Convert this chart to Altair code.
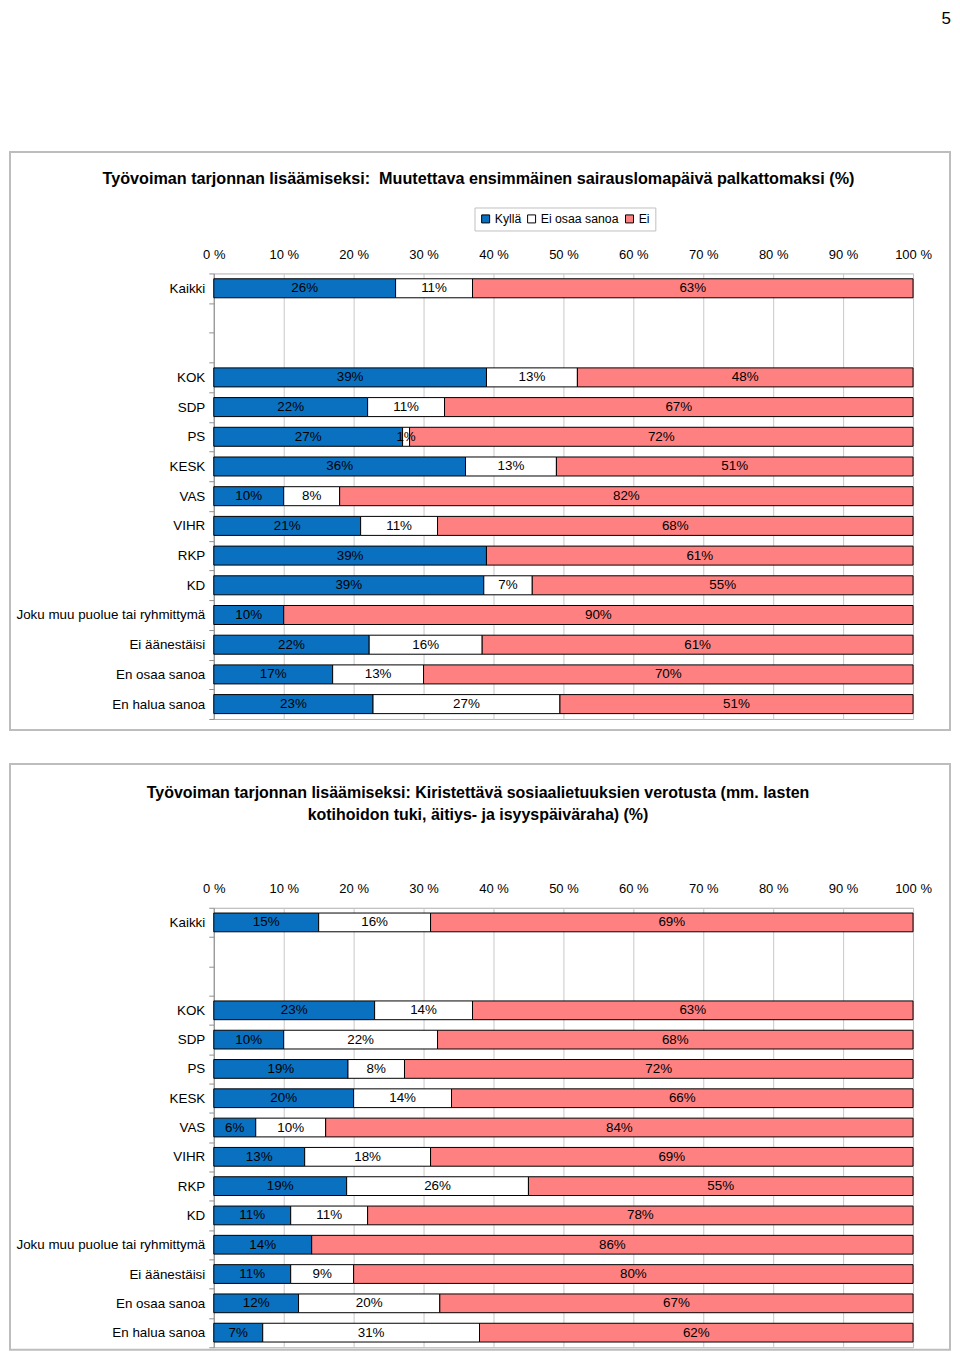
import altair as alt
import pandas as pd

FONT = "Liberation Sans"

categories = ["Kaikki", "KOK", "SDP", "PS", "KESK", "VAS", "VIHR", "RKP", "KD",
              "Joku muu puolue tai ryhmittymä", "Ei äänestäisi", "En osaa sanoa", "En halua sanoa"]
blank_rows = ["_b1", "_b2"]
answers = ["Kyllä", "Ei osaa sanoa", "Ei"]
colors = ["#0a70c0", "#ffffff", "#ff8080"]

c1_kylla = [26, 39, 22, 27, 36, 10, 21, 39, 39, 10, 22, 17, 23]
c1_eos = [11, 13, 11, 1, 13, 8, 11, 0, 7, 0, 16, 13, 27]
c1_ei = [63, 48, 67, 72, 51, 82, 68, 61, 55, 90, 61, 70, 51]

c2_kylla = [15, 23, 10, 19, 20, 6, 13, 19, 11, 14, 11, 12, 7]
c2_eos = [16, 14, 22, 8, 14, 10, 18, 26, 11, 0, 9, 20, 31]
c2_ei = [69, 63, 68, 72, 66, 84, 69, 55, 78, 86, 80, 67, 62]

title1 = "Työvoiman tarjonnan lisäämiseksi:\u00a0 Muutettava ensimmäinen sairauslomapäivä palkattomaksi (%)"
title2 = ["Työvoiman tarjonnan lisäämiseksi: Kiristettävä sosiaalietuuksien verotusta (mm. lasten",
          "kotihoidon tuki, äitiys- ja isyyspäiväraha) (%)"]
x_ticks = [0, 0.1, 0.2, 0.3, 0.4, 0.5, 0.6, 0.7, 0.8, 0.9, 1.0]
page_number = "5"

y_domain = [categories[0]] + blank_rows + categories[1:]


def make_df(kylla, eos, ei):
    rows = []
    for i, cat in enumerate(categories):
        for j, (ans, v) in enumerate(zip(answers, [kylla[i], eos[i], ei[i]])):
            rows.append({"group": cat, "answer": ans, "value": v, "order": j})
    return pd.DataFrame(rows)


def panel(kylla, eos, ei, title, plot_h, frame_top, frame_bottom, title_offset, title_dx, title_size,
          extra=None):
    df = make_df(kylla, eos, ei)
    yscale = alt.Scale(domain=y_domain, paddingInner=0, paddingOuter=0)
    yaxis = alt.Axis(title=None, labelExpr="indexof(datum.label, '_b') == 0 ? '' : datum.label",
                     tickBand="extent", tickSize=5, tickColor="#909090",
                     domainColor="#909090", labelPadding=4, labelFontSize=13.4, labelLimit=260,
                     labelColor="black", labelFont=FONT, grid=False)
    xscale = alt.Scale(domain=[0, 1], nice=False)
    xaxis = alt.Axis(orient="top", values=x_ticks, title=None, ticks=False, tickSize=0,
                     domain=False, grid=True, gridColor="#c8c8c8", gridWidth=1, labelFlush=False,
                     labelExpr="format(datum.value * 100, 'd') + ' %'",
                     labelPadding=12, labelFontSize=13, labelColor="black", labelFont=FONT)
    base = alt.Chart(df)
    bars = base.mark_bar(height=alt.RelativeBandSize(0.64), stroke="black", strokeWidth=1).encode(
        y=alt.Y("group:N", scale=yscale, axis=yaxis),
        x=alt.X("value:Q", stack="normalize", scale=xscale, axis=xaxis),
        color=alt.Color("answer:N", scale=alt.Scale(domain=answers, range=colors),
                        legend=alt.Legend(orient="none", legendX=261, legendY=-66, direction="horizontal",
                                          title=None, strokeColor="#c0c0c0", fillColor="white",
                                          padding=5, symbolType="square", symbolSize=64,
                                          symbolStrokeColor="black", symbolStrokeWidth=1,
                                          labelFontSize=12.3, labelFont=FONT, labelColor="black",
                                          columnPadding=4, labelOffset=3)),
        order=alt.Order("order:Q"),
    )
    texts = base.transform_joinaggregate(
        total="sum(value)", groupby=["group"]
    ).transform_window(
        cum="sum(value)", sort=[alt.SortField("order")], groupby=["group"], frame=[None, 0]
    ).transform_calculate(
        mid="(datum.cum - datum.value / 2) / datum.total",
        label="datum.value + '%'"
    ).transform_filter("datum.value > 0").mark_text(fontSize=13.4, font=FONT, color="black").encode(
        y=alt.Y("group:N", scale=yscale, axis=yaxis),
        x=alt.X("mid:Q", scale=xscale, axis=xaxis),
        text="label:N",
    )
    frame = alt.Chart(pd.DataFrame({"f": [0]})).mark_rect(
        fill="transparent", stroke="#bdbdbd", strokeWidth=2
    ).encode(
        x=alt.value(-204), x2=alt.value(737), y=alt.value(frame_top), y2=alt.value(frame_bottom)
    )
    layers = [frame, bars, texts]
    if extra is not None:
        layers.append(extra)
    return alt.layer(*layers).properties(
        width=700, height=plot_h,
        title=alt.TitleParams(text=title, fontSize=title_size, fontWeight="bold", font=FONT, color="black",
                              anchor="middle", frame="bounds", offset=title_offset, baseline="top",
                              lineHeight=22, dx=title_dx),
    )


page_mark = alt.Chart(pd.DataFrame({"t": [page_number]})).mark_text(
    fontSize=17, font=FONT, align="right", baseline="top", color="black"
).encode(text="t:N", x=alt.value(738), y=alt.value(-263))

p1 = panel(c1_kylla, c1_eos, c1_ei, title1, 446, -121.5, 457, -177.5, -1.5, 16.2, extra=page_mark)
p2 = panel(c2_kylla, c2_eos, c2_ei, title2, 440, -144, 442.5, -60, -2, 16)

chart = alt.vconcat(p1, p2, spacing=30).properties(
    padding=0,
).configure_view(stroke="#b0b0b0")

chart.save("out.html", embed_options={"renderer": "svg", "actions": False})
